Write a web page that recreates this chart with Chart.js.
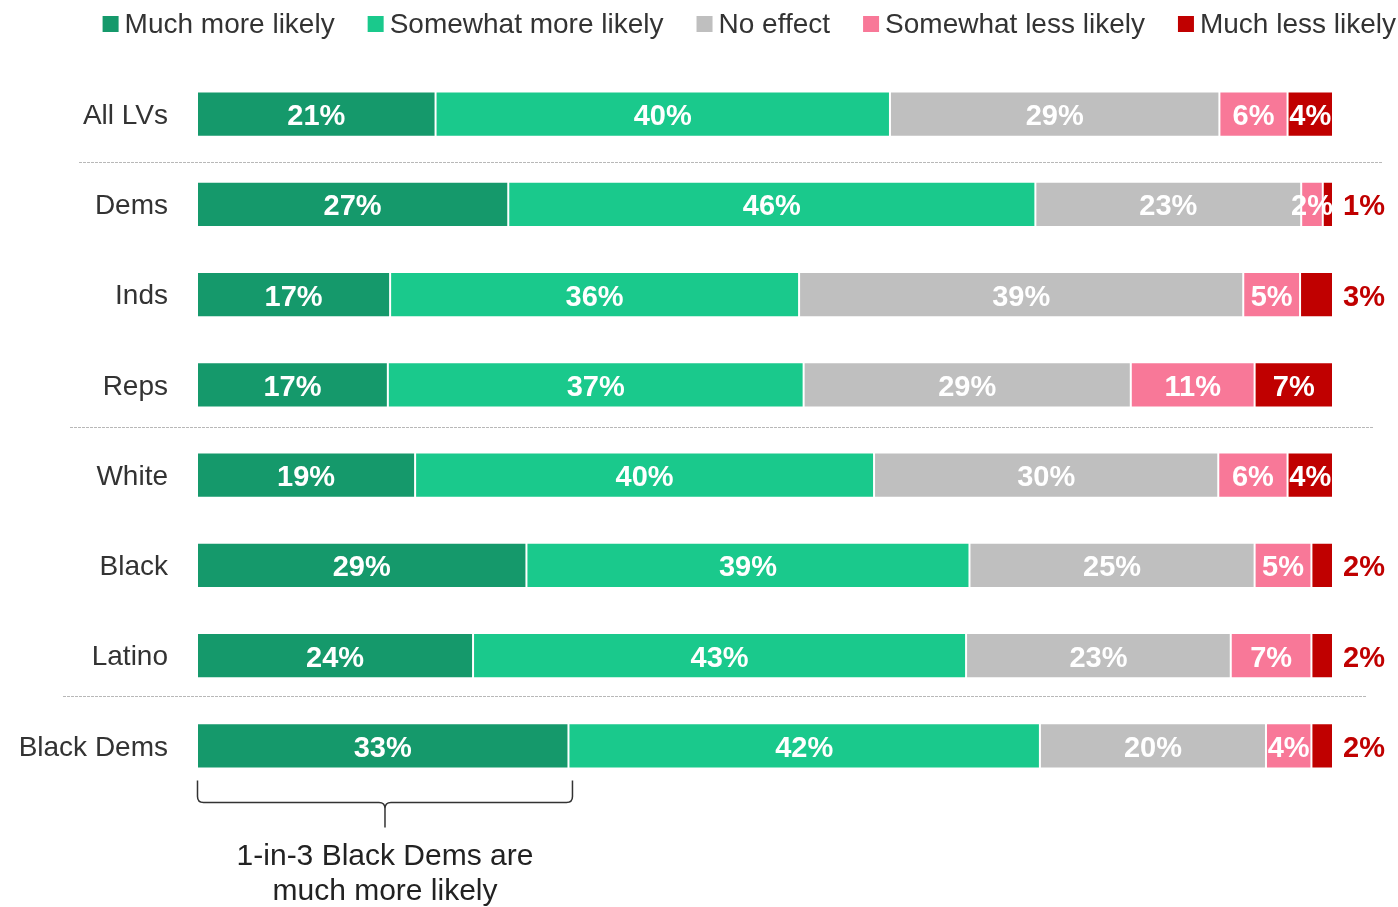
<!DOCTYPE html>
<html>
<head>
<meta charset="utf-8">
<script src="https://cdn.jsdelivr.net/npm/chart.js@4/dist/chart.umd.min.js"></script>
<style>
  html, body { margin: 0; padding: 0; background: #fff; }
  #wrap { width: 1398px; height: 907px; position: relative; }
</style>
</head>
<body>
<div id="wrap"><canvas id="c"></canvas></div>
<script>
const categories = ['All LVs', 'Dems', 'Inds', 'Reps', 'White', 'Black', 'Latino', 'Black Dems'];
const seriesNames = ['Much more likely', 'Somewhat more likely', 'No effect', 'Somewhat less likely', 'Much less likely'];
const muchMore     = [21.0, 27.4, 17.0, 16.8, 19.2, 29.0, 24.3, 32.7];
const somewhatMore = [40.0, 46.4, 36.0, 36.6, 40.4, 39.0, 43.4, 41.5];
const noEffect     = [29.0, 23.4, 39.1, 28.8, 30.3, 25.1, 23.3, 19.9];
const somewhatLess = [6.0, 1.9, 5.0, 10.9, 6.1, 5.0, 7.1, 4.0];
const muchLess     = [4.0, 0.9, 2.9, 6.9, 4.0, 1.9, 1.9, 1.9];
const seriesColors = ['#15996B', '#1AC98C', '#BFBFBF', '#F87898', '#C00000'];
const annotationLines = ['1-in-3 Black Dems are', 'much more likely'];
const separatorsAfter = [0, 3, 6];

const FONT = '"Liberation Sans", Arial, sans-serif';
Chart.defaults.font.family = FONT;

const allSeries = [muchMore, somewhatMore, noEffect, somewhatLess, muchLess];

const legendPlugin = {
  id: 'customLegend',
  afterDraw(chart) {
    const ctx = chart.ctx;
    ctx.save();
    ctx.font = '28px ' + FONT;
    ctx.textBaseline = 'middle';
    ctx.textAlign = 'left';
    const box = 16, gapText = 6, gapItem = 33;
    let total = 0;
    const widths = seriesNames.map(n => ctx.measureText(n).width);
    widths.forEach(w => total += box + gapText + w);
    total += gapItem * (seriesNames.length - 1);
    let x = chart.width - 2 - total;
    const yc = 24;
    seriesNames.forEach((n, i) => {
      ctx.fillStyle = seriesColors[i];
      ctx.fillRect(x, yc - 8, box, box);
      ctx.fillStyle = '#333';
      ctx.fillText(n, x + box + gapText, yc + 1);
      x += box + gapText + widths[i] + gapItem;
    });
    ctx.restore();
  }
};

const labelsPlugin = {
  id: 'valueLabels',
  afterDatasetsDraw(chart) {
    const ctx = chart.ctx;
    const area = chart.chartArea;
    ctx.save();
    ctx.font = 'bold 29px ' + FONT;
    ctx.textBaseline = 'middle';
    chart.data.datasets.forEach((ds, di) => {
      const meta = chart.getDatasetMeta(di);
      meta.data.forEach((bar, i) => {
        const v = ds.data[i];
        const txt = Math.round(v) + '%';
        const y = bar.y + 3;
        if (di === allSeries.length - 1 && v < 3.5) {
          ctx.textAlign = 'left';
          ctx.fillStyle = '#C00000';
          ctx.fillText(txt, area.right + 10, y);
        } else {
          ctx.textAlign = 'center';
          ctx.fillStyle = '#fff';
          ctx.fillText(txt, (bar.x + bar.base) / 2, y);
        }
      });
    });
    ctx.restore();
  }
};

const decorPlugin = {
  id: 'decor',
  afterDraw(chart) {
    const ctx = chart.ctx;
    const xs = chart.scales.x, ys = chart.scales.y;
    const area = chart.chartArea;
    ctx.save();
    // dotted separators
    const starts = [-118, -127, -134];
    const shifts = [3, -3, -5];
    ctx.strokeStyle = '#b8b8b8';
    ctx.lineWidth = 1;
    ctx.setLineDash([3, 1]);
    separatorsAfter.forEach((idx, k) => {
      const y = Math.round((ys.getPixelForValue(idx) + ys.getPixelForValue(idx + 1)) / 2 + shifts[k]) + 0.5;
      const x0 = area.left + starts[k];
      ctx.beginPath();
      ctx.moveTo(x0, y);
      ctx.lineTo(x0 + 1303, y);
      ctx.stroke();
    });
    ctx.setLineDash([]);
    // brace under last row
    const last = categories.length - 1;
    const meta = chart.getDatasetMeta(0);
    const bar = meta.data[last];
    const x0 = xs.getPixelForValue(0) + 0.5;
    const x1 = xs.getPixelForValue(muchMore[last]) + 4;
    const xc = (x0 + x1) / 2;
    const barBottom = bar.y + bar.height / 2;
    const yTop = barBottom + 12;
    const yMid = yTop + 22;
    const yTip = yMid + 25;
    const r = 6;
    ctx.strokeStyle = '#333';
    ctx.lineWidth = 1.5;
    ctx.beginPath();
    ctx.moveTo(x0, yTop);
    ctx.lineTo(x0, yMid - r);
    ctx.quadraticCurveTo(x0, yMid, x0 + r, yMid);
    ctx.lineTo(xc - r, yMid);
    ctx.quadraticCurveTo(xc, yMid, xc, yMid + r);
    ctx.lineTo(xc, yTip);
    ctx.moveTo(x1, yTop);
    ctx.lineTo(x1, yMid - r);
    ctx.quadraticCurveTo(x1, yMid, x1 - r, yMid);
    ctx.lineTo(xc + r, yMid);
    ctx.quadraticCurveTo(xc, yMid, xc, yMid + r);
    ctx.stroke();
    // annotation text
    ctx.font = '30px ' + FONT;
    ctx.fillStyle = '#222';
    ctx.textAlign = 'center';
    ctx.textBaseline = 'alphabetic';
    annotationLines.forEach((t, i) => {
      ctx.fillText(t, xc, yTip + 38 + i * 35);
    });
    ctx.restore();
  }
};

new Chart(document.getElementById('c'), {
  type: 'bar',
  data: {
    labels: categories,
    datasets: allSeries.map((d, i) => ({
      label: seriesNames[i],
      data: d,
      backgroundColor: seriesColors[i],
      borderColor: 'rgba(255,255,255,0.45)',
      borderWidth: 1,
      borderSkipped: false,
      categoryPercentage: 1.0,
      barPercentage: 0.5
    }))
  },
  options: {
    indexAxis: 'y',
    responsive: true,
    maintainAspectRatio: false,
    animation: false,
    layout: { padding: { top: 69, right: 65, bottom: 116, left: 0 } },
    plugins: {
      legend: { display: false },
      tooltip: { enabled: false },
      title: { display: false }
    },
    scales: {
      x: {
        stacked: true,
        min: 0,
        max: 100,
        display: false
      },
      y: {
        stacked: true,
        grid: { display: false, drawTicks: false },
        border: { display: false },
        ticks: {
          color: '#333',
          font: { size: 28, family: FONT },
          padding: 29,
          labelOffset: 2
        },
        afterFit(scale) { scale.width = 197; }
      }
    }
  },
  plugins: [legendPlugin, labelsPlugin, decorPlugin]
});
</script>
</body>
</html>
